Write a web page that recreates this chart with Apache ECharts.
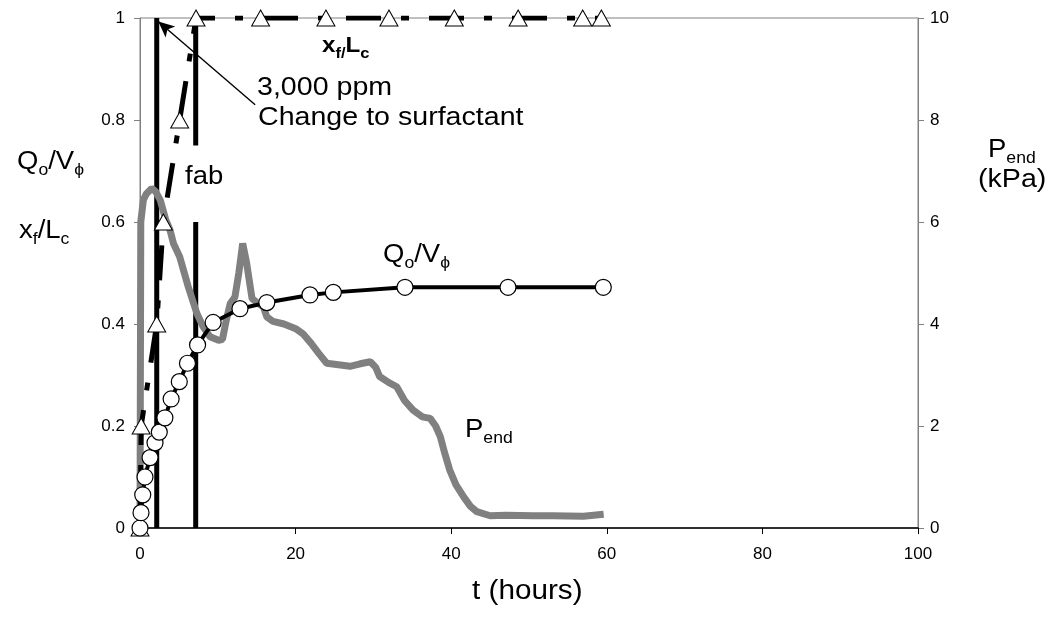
<!DOCTYPE html>
<html>
<head>
<meta charset="utf-8">
<script src="https://cdn.jsdelivr.net/npm/echarts@6/dist/echarts.min.js"></script>
<style>
  html, body { margin: 0; padding: 0; background: #fff; }
  #chart { width: 1060px; height: 617px; }
</style>
</head>
<body>
<div id="chart"></div>
<script>
// Oil recovery Qo/Vphi (circles), front position xf/Lc (triangles), end pressure Pend (kPa)
const tQ = [0, 0.13, 0.35, 0.64, 1.29, 1.93, 2.48, 3.2, 4.0, 5.05, 6.1, 7.4, 9.4, 12.85, 16.3, 21.85, 24.85, 34.06, 47.3, 59.55];
const qv = [0, 0.03, 0.065, 0.10, 0.138, 0.167, 0.188, 0.216, 0.253, 0.287, 0.323, 0.359, 0.403, 0.43, 0.442, 0.457, 0.462, 0.472, 0.472, 0.472];

const tX = [0, 0.15, 2.15, 3.0, 5.1, 7.2, 15.5, 23.9, 32.0, 40.4, 48.6, 56.9, 59.3];
const xf = [0, 0.2, 0.4, 0.6, 0.8, 1, 1, 1, 1, 1, 1, 1, 1];

const tP = [0, 0.1, 0.43, 0.8, 1.5, 2.0, 2.6, 3.3, 3.86, 4.3, 5.1, 6.2, 7.3, 8.1, 9.0, 10.1, 10.6, 11.1, 11.6, 12.2, 12.7, 13.2, 13.7, 14.4, 15.2, 15.85, 16.3, 17.1, 18.5, 20.1, 21.0, 22.0, 23.0, 24.0, 25.5, 27.0, 28.3, 29.6, 30.3, 30.8, 32.0, 33.0, 34.0, 35.1, 36.3, 37.3, 38.0, 38.6, 39.2, 39.8, 40.6, 41.6, 42.5, 43.3, 45.0, 47.0, 50.6, 53.0, 57.0, 59.6];
const pend = [0, 6.0, 6.43, 6.55, 6.66, 6.6, 6.43, 6.05, 5.84, 5.58, 5.32, 4.73, 4.21, 3.95, 3.75, 3.68, 3.7, 4.08, 4.4, 4.53, 5.0, 5.58, 5.2, 4.5, 4.4, 4.34, 4.14, 4.05, 4.0, 3.9, 3.8, 3.62, 3.42, 3.23, 3.2, 3.17, 3.22, 3.26, 3.15, 2.97, 2.85, 2.77, 2.5, 2.31, 2.18, 2.15, 2.0, 1.79, 1.45, 1.14, 0.85, 0.61, 0.42, 0.32, 0.24, 0.25, 0.24, 0.24, 0.23, 0.27];

// vertical markers: surfactant switch and the fab marker (drawn in two pieces)
const surfactantT = 2.15;
const surfactantY = [0, 1];
const fabT = 7.16;
const fabLowY = [0, 0.6];
const fabHighY = [0.75, 1];

// arrow from the annotation text to the surfactant switch
const arrowFrom = [14.8, 0.83];
const arrowTo = [2.35, 0.993];

const xTicks = { min: 0, max: 100, interval: 20 };
const yLeftTicks = { min: 0, max: 1, interval: 0.2 };
const yRightTicks = { min: 0, max: 10, interval: 2 };

const zip = (a, b) => a.map((v, i) => [v, b[i]]);
const FONT = 'Liberation Sans, Arial, sans-serif';

const rich = {
  m: { fontSize: 25, lineHeight: 34, fontFamily: FONT, fill: '#000' },
  s: { fontSize: 16, lineHeight: 16, verticalAlign: 'bottom', fontFamily: FONT, fill: '#000' },
  mb: { fontSize: 22, lineHeight: 30, fontFamily: FONT, fontWeight: 'bold', fill: '#000' },
  sb: { fontSize: 15, lineHeight: 15, verticalAlign: 'bottom', fontFamily: FONT, fontWeight: 'bold', fill: '#000' }
};

function richText(x, y, text, sx) {
  return {
    type: 'text', x: x, y: y, scaleX: sx || 1.1, z: 100,
    style: { x: 0, y: 0, text: text, rich: rich, align: 'left', verticalAlign: 'top' }
  };
}
function plainText(x, y, text, size, sx) {
  return {
    type: 'text', x: x, y: y, scaleX: sx || 1.1, z: 100,
    style: { x: 0, y: 0, text: text, fontSize: size, fontFamily: FONT, fill: '#000', align: 'left', verticalAlign: 'middle' }
  };
}

const chart = echarts.init(document.getElementById('chart'), null, { renderer: 'canvas' });

chart.setOption({
  animation: false,
  backgroundColor: '#fff',
  grid: { left: 140, right: 142, top: 18, bottom: 89, show: true, borderColor: '#808080', borderWidth: 1 },
  xAxis: {
    type: 'value', min: xTicks.min, max: xTicks.max, interval: xTicks.interval,
    axisLine: { show: true, lineStyle: { color: '#000', width: 1.5 } },
    axisTick: { show: true, inside: false, length: 6, lineStyle: { color: '#000' } },
    axisLabel: { fontSize: 17, color: '#000', fontFamily: FONT, margin: 18 },
    splitLine: { show: false }
  },
  yAxis: [
    {
      type: 'value', min: yLeftTicks.min, max: yLeftTicks.max, interval: yLeftTicks.interval,
      axisLine: { show: true, lineStyle: { color: '#808080', width: 1 } },
      axisTick: { show: true, inside: false, length: 6, lineStyle: { color: '#808080' } },
      axisLabel: { fontSize: 17, color: '#000', fontFamily: FONT, margin: 15 },
      splitLine: { show: false }
    },
    {
      type: 'value', position: 'right', min: yRightTicks.min, max: yRightTicks.max, interval: yRightTicks.interval,
      axisLine: { show: true, lineStyle: { color: '#808080', width: 1 } },
      axisTick: { show: true, inside: false, length: 6, lineStyle: { color: '#808080' } },
      axisLabel: { fontSize: 17, color: '#000', fontFamily: FONT, margin: 12 },
      splitLine: { show: false }
    }
  ],
  series: [
    {
      name: 'surfactant switch', type: 'line', symbol: 'none', z: 2,
      data: zip([surfactantT, surfactantT], surfactantY),
      lineStyle: { color: '#000', width: 5 },
      markLine: {
        silent: true, symbol: ['none', 'arrow'], symbolSize: [11, 16],
        label: { show: false },
        lineStyle: { color: '#000', width: 1.4, type: 'solid' },
        data: [[{ coord: arrowFrom }, { coord: arrowTo }]]
      }
    },
    {
      name: 'fab low', type: 'line', symbol: 'none', z: 2,
      data: zip([fabT, fabT], fabLowY),
      lineStyle: { color: '#000', width: 5 }
    },
    {
      name: 'fab high', type: 'line', symbol: 'none', z: 2,
      data: zip([fabT, fabT], fabHighY),
      lineStyle: { color: '#000', width: 5 }
    },
    {
      name: 'Pend', type: 'line', yAxisIndex: 1, symbol: 'none', z: 3,
      data: zip(tP, pend),
      lineStyle: { color: '#808080', width: 7 }
    },
    {
      name: 'xf/Lc', type: 'line', symbol: 'triangle', symbolSize: [18, 16], showAllSymbol: true, z: 4,
      data: zip(tX, xf),
      lineStyle: { color: '#000', width: 5, type: [35, 20, 8, 20] },
      itemStyle: { color: '#fff', borderColor: '#000', borderWidth: 1 }
    },
    {
      name: 'Qo/Vphi', type: 'line', symbol: 'circle', symbolSize: 16, showAllSymbol: true, z: 5,
      data: zip(tQ, qv),
      lineStyle: { color: '#000', width: 4 },
      itemStyle: { color: '#fff', borderColor: '#000', borderWidth: 1.2 }
    }
  ],
  graphic: [
    richText(17, 145, '{m|Q}{s|o}{m|/V}{s|ϕ}'),
    richText(19, 214, '{m|x}{s|f}{m|/L}{s|c}'),
    richText(988, 133, '{m|P}{s|end}'),
    plainText(978, 180, '(kPa)', 26),
    plainText(472, 592, 't (hours)', 27),
    richText(322, 31, '{mb|x}{sb|f/}{mb|L}{sb|c}'),
    plainText(257, 88, '3,000 ppm', 26),
    plainText(258, 118, 'Change to surfactant', 26),
    plainText(185, 177, 'fab', 25),
    richText(383, 238, '{m|Q}{s|o}{m|/V}{s|ϕ}'),
    richText(465, 413, '{m|P}{s|end}')
  ]
});
</script>
</body>
</html>
